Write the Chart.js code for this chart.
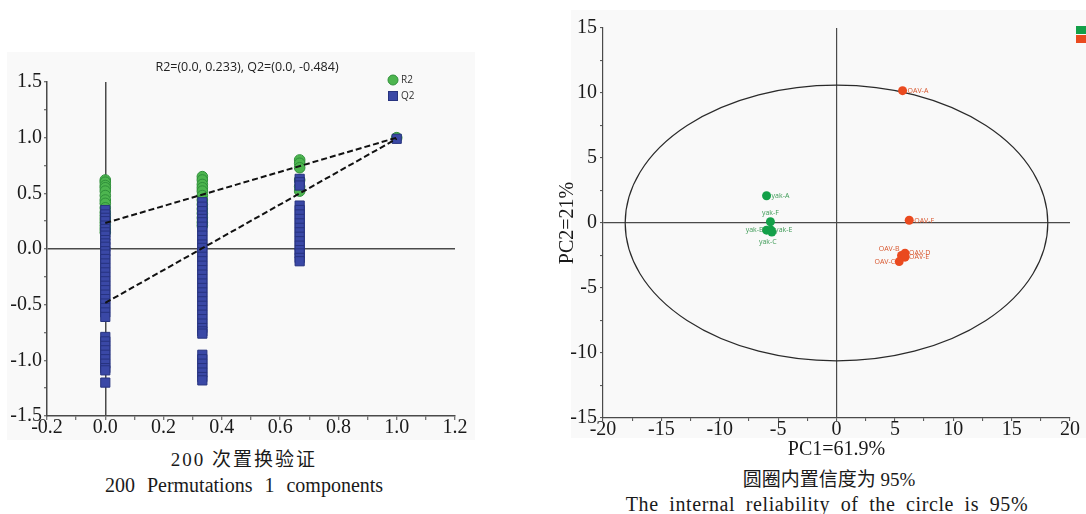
<!DOCTYPE html>
<html><head><meta charset="utf-8">
<script src="https://cdn.jsdelivr.net/npm/chart.js@4/dist/chart.umd.min.js"></script>
<style>
html,body{margin:0;padding:0;background:#fff;width:1086px;height:514px;overflow:hidden;position:relative;font-family:"Liberation Serif","Noto Sans CJK SC",serif;}
.panel{position:absolute;background:#f9f9f9;}
.box{position:absolute;}
.cap{position:absolute;transform:translateX(-50%);white-space:nowrap;font-size:19px;color:#1a1a1a;line-height:20px;}
</style></head><body>
<div class="panel" style="left:7px;top:52px;width:468px;height:388px"></div>
<div class="panel" style="left:571px;top:10px;width:515px;height:428px"></div>
<div class="box" style="left:0;top:50px;width:480px;height:392px"><canvas id="c1"></canvas></div>
<div class="box" style="left:545px;top:0;width:541px;height:466px"><canvas id="c2"></canvas></div>
<div class="cap" style="left:244px;top:450px;letter-spacing:2px">200 次置换验证</div>
<div class="cap" style="left:244px;top:475px;font-size:20px;word-spacing:7px">200 Permutations 1 components</div>
<div class="cap" style="left:829px;top:470px">圆圈内置信度为 95%</div>
<div class="cap" style="left:827px;top:494px;font-size:20px;letter-spacing:0.6px;word-spacing:5px">The internal reliability of the circle is 95%</div>
<script>
// ---------- Left chart: permutation test ----------
const COMPONENT_X = [0, 0.333, 0.667, 1.0];
const R2_AT_0   = [0.62, 0.60, 0.57, 0.55, 0.52, 0.48, 0.44, 0.41, 0.37, 0.33, 0.30, 0.27, 0.24, 0.21, 0.18, 0.15];
const R2_AT_033 = [0.65, 0.62, 0.58, 0.55, 0.52, 0.48, 0.44, 0.40, 0.36, 0.32, 0.28, 0.24, 0.21];
const R2_AT_067 = [0.80, 0.77, 0.73, 0.62, 0.56, 0.52];
const R2_AT_1   = [1.00];
const Q2_AT_0   = [0.35, 0.31, 0.28, 0.25, 0.21, 0.18, 0.15, 0.12, 0.08, 0.05, 0.02, -0.02, -0.05, -0.09, -0.13, -0.17, -0.21, -0.25, -0.29, -0.33, -0.37, -0.41, -0.45, -0.49, -0.53, -0.57, -0.61, -0.79, -0.83, -0.87, -0.91, -0.95, -0.99, -1.03, -1.07, -1.09, -1.20];
const Q2_AT_033 = [0.42, 0.38, 0.34, 0.30, 0.27, 0.24, 0.20, 0.16, 0.12, 0.08, 0.04, 0.01, -0.03, -0.07, -0.11, -0.15, -0.19, -0.23, -0.27, -0.31, -0.35, -0.39, -0.43, -0.47, -0.51, -0.55, -0.59, -0.63, -0.67, -0.71, -0.74, -0.76, -0.95, -0.99, -1.03, -1.07, -1.11, -1.15, -1.18];
const Q2_AT_067 = [0.63, 0.60, 0.57, 0.39, 0.35, 0.31, 0.27, 0.23, 0.19, 0.15, 0.11, 0.07, 0.03, -0.01, -0.04, -0.08, -0.11];
const Q2_AT_1   = [0.99];
const R2_LINE = [[0, 0.233], [1, 1.0]];
const Q2_LINE = [[0, -0.484], [1, 0.99]];
const PERM_TITLE = 'R2=(0.0, 0.233), Q2=(0.0, -0.484)';
const X_TICKS_LEFT = [-0.2, 0.0, 0.2, 0.4, 0.6, 0.8, 1.0, 1.2];
const Y_TICKS_LEFT = [-1.5, -1.0, -0.5, 0.0, 0.5, 1.0, 1.5];

// ---------- Right chart: PCA scores ----------
const YAK_NAMES = ['yak-A', 'yak-F', 'yak-B', 'yak-E', 'yak-C'];
const YAK_PC1   = [-5.99, -5.66, -5.99, -5.60, -5.54];
const YAK_PC2   = [2.10, 0.10, -0.55, -0.55, -0.70];
const OAV_NAMES = ['OAV-A', 'OAV-F', 'OAV-B', 'OAV-D', 'OAV-E', 'OAV-C'];
const OAV_PC1   = [5.66, 6.23, 5.57, 5.87, 5.87, 5.37];
const OAV_PC2   = [10.18, 0.21, -2.50, -2.32, -2.63, -2.97];
const ELLIPSE_A = 18.1;   // PC1 semi-axis of 95% ellipse
const ELLIPSE_B = 10.6;   // PC2 semi-axis
const PCA_TICKS_X = [-20, -15, -10, -5, 0, 5, 10, 15, 20];
const PCA_TICKS_Y = [-15, -10, -5, 0, 5, 10, 15];

const SERIF = '"Liberation Serif", "Times New Roman", serif';
const SANS = '"Open Sans", "Noto Sans", sans-serif';
const AXIS = '#4a4a4a';
const near = (v, list) => list.some(t => Math.abs(t - v) < 1e-6);

const col = (x, arr) => arr.map(y => ({x, y}));
const GREEN = '#4db54f', GREEN_B = '#2f8f3a';
const BLUE = '#3a48a6', BLUE_B = '#27337f';

const leftDecor = {
  id: 'leftDecor',
  afterDraw(chart) {
    const ctx = chart.ctx;
    ctx.save();
    ctx.fillStyle = '#222';
    ctx.font = '12.5px ' + SANS;
    ctx.textAlign = 'center'; ctx.textBaseline = 'middle';
    ctx.fillText(PERM_TITLE, 247, 17);
    // legend
    ctx.beginPath(); ctx.arc(393, 30, 5, 0, Math.PI * 2);
    ctx.fillStyle = GREEN; ctx.fill(); ctx.strokeStyle = GREEN_B; ctx.lineWidth = 1; ctx.stroke();
    ctx.fillStyle = BLUE; ctx.fillRect(388.5, 41.5, 9, 9);
    ctx.strokeStyle = BLUE_B; ctx.strokeRect(388.5, 41.5, 9, 9);
    ctx.fillStyle = '#333'; ctx.font = '10px ' + SANS; ctx.textAlign = 'left';
    ctx.fillText('R2', 401, 30); ctx.fillText('Q2', 401, 46);
    ctx.restore();
  }
};

const r2Data = [].concat(col(COMPONENT_X[0], R2_AT_0), col(COMPONENT_X[1], R2_AT_033), col(COMPONENT_X[2], R2_AT_067), col(COMPONENT_X[3], R2_AT_1));
const q2Data = [].concat(col(COMPONENT_X[0], Q2_AT_0), col(COMPONENT_X[1], Q2_AT_033), col(COMPONENT_X[2], Q2_AT_067), col(COMPONENT_X[3], Q2_AT_1));

new Chart(document.getElementById('c1'), {
  type: 'scatter',
  data: { datasets: [
    { label: 'R2 fit', type: 'line', data: R2_LINE.map(p => ({x: p[0], y: p[1]})), borderColor: '#111', borderWidth: 2, borderDash: [6, 3], pointRadius: 0, fill: false, order: 0 },
    { label: 'Q2 fit', type: 'line', data: Q2_LINE.map(p => ({x: p[0], y: p[1]})), borderColor: '#111', borderWidth: 2, borderDash: [6, 3], pointRadius: 0, fill: false, order: 0 },
    { label: 'Q2', data: q2Data, pointStyle: 'rect', pointRadius: 6.5, backgroundColor: BLUE, borderColor: BLUE_B, borderWidth: 1, order: 1 },
    { label: 'R2', data: r2Data, pointStyle: 'circle', pointRadius: 5.3, backgroundColor: GREEN, borderColor: GREEN_B, borderWidth: 1, order: 2 }
  ]},
  options: {
    responsive: true, maintainAspectRatio: false, animation: false, devicePixelRatio: 1,
    layout: { padding: { left: 0, right: 25, top: 32, bottom: 0 } },
    plugins: { legend: { display: false }, tooltip: { enabled: false } },
    scales: {
      x: {
        type: 'linear', min: -0.2, max: 1.2,
        afterFit(s) { s.height = 26; },
        border: { display: true, color: AXIS, width: 1.5 },
        grid: { drawOnChartArea: true, color: c => (c.tick && Math.abs(c.tick.value) < 1e-9) ? AXIS : 'rgba(0,0,0,0)', lineWidth: 1.5, tickColor: AXIS, tickLength: 4, tickWidth: 1 },
        ticks: { stepSize: 0.1, autoSkip: false, maxRotation: 0, padding: -4, color: '#1a1a1a', font: { family: SERIF, size: 20 },
          callback: v => near(v, X_TICKS_LEFT) ? (Math.round(v * 10) / 10).toFixed(1) : '' }
      },
      y: {
        type: 'linear', min: -1.5, max: 1.5,
        afterFit(s) { s.width = 47; },
        border: { display: true, color: AXIS, width: 1.5 },
        grid: { drawOnChartArea: true, color: c => (c.tick && Math.abs(c.tick.value) < 1e-9) ? AXIS : 'rgba(0,0,0,0)', lineWidth: 1.5, tickColor: AXIS, tickLength: 3, tickWidth: 1 },
        ticks: { stepSize: 0.25, autoSkip: false, padding: 2, color: '#1a1a1a', font: { family: SERIF, size: 20 },
          callback: v => near(v, Y_TICKS_LEFT) ? (Math.round(v * 10) / 10).toFixed(1) : '' }
      }
    }
  },
  plugins: [leftDecor]
});

// ---------- right chart ----------
const PCA_GREEN = '#13a049', PCA_ORANGE = '#ea4a1f';
const LABEL_STYLE = {
  'yak-A': [5, 0, 'left'], 'yak-F': [0, -9, 'center'], 'yak-B': [-3, 0, 'right'], 'yak-E': [4, 0, 'left'], 'yak-C': [-4, 10, 'center'],
  'OAV-A': [5, 0, 'left'], 'OAV-F': [5, 0.5, 'left'], 'OAV-B': [-2, -7, 'right'], 'OAV-D': [4, 0, 'left'], 'OAV-E': [4, 0, 'left'], 'OAV-C': [-4, 0, 'right']
};

const pcaDecor = {
  id: 'pcaDecor',
  beforeDatasetsDraw(chart) {
    const {ctx, scales: {x, y}} = chart;
    const cx = x.getPixelForValue(0), cy = y.getPixelForValue(0);
    const rx = x.getPixelForValue(ELLIPSE_A) - cx, ry = cy - y.getPixelForValue(ELLIPSE_B);
    ctx.save();
    ctx.beginPath(); ctx.ellipse(cx, cy, rx, ry, 0, 0, Math.PI * 2);
    ctx.strokeStyle = '#2a2a2a'; ctx.lineWidth = 1.2; ctx.stroke();
    ctx.restore();
  },
  afterDatasetsDraw(chart) {
    const ctx = chart.ctx;
    ctx.save();
    ctx.font = '7px ' + SANS; ctx.textBaseline = 'middle';
    chart.data.datasets.forEach((ds, i) => {
      const meta = chart.getDatasetMeta(i);
      meta.data.forEach((pt, j) => {
        const name = ds.names[j];
        const st = LABEL_STYLE[name] || [5, 0, 'left'];
        ctx.fillStyle = ds.labelColor; ctx.textAlign = st[2];
        ctx.fillText(name, pt.x + st[0], pt.y + st[1]);
      });
    });
    // legend swatches (cut at the right edge)
    ctx.fillStyle = PCA_GREEN; ctx.fillRect(531, 26, 10, 8);
    ctx.fillStyle = PCA_ORANGE; ctx.fillRect(531, 35, 10, 8);
    ctx.restore();
  }
};

new Chart(document.getElementById('c2'), {
  type: 'scatter',
  data: { datasets: [
    { label: 'yak', names: YAK_NAMES, labelColor: '#3c9a55', data: YAK_PC1.map((v, i) => ({x: v, y: YAK_PC2[i]})), pointRadius: 4.5, backgroundColor: PCA_GREEN, borderColor: PCA_GREEN, borderWidth: 0 },
    { label: 'OAV', names: OAV_NAMES, labelColor: '#d8552c', data: OAV_PC1.map((v, i) => ({x: v, y: OAV_PC2[i]})), pointRadius: 4.5, backgroundColor: PCA_ORANGE, borderColor: PCA_ORANGE, borderWidth: 0 }
  ]},
  options: {
    responsive: true, maintainAspectRatio: false, animation: false, devicePixelRatio: 1,
    layout: { padding: { left: 0, right: 16, top: 28, bottom: 0 } },
    plugins: { legend: { display: false }, tooltip: { enabled: false } },
    scales: {
      x: {
        type: 'linear', min: -20, max: 20,
        afterFit(s) { s.height = 48; },
        title: { display: true, text: 'PC1=61.9%', color: '#1a1a1a', font: { family: SERIF, size: 20 }, padding: { top: 0, bottom: 4 } },
        border: { display: true, color: AXIS, width: 1.2 },
        grid: { drawOnChartArea: true, color: c => (c.tick && c.tick.value === 0) ? AXIS : 'rgba(0,0,0,0)', lineWidth: 1.2, tickColor: AXIS, tickLength: 3, tickWidth: 1 },
        ticks: { stepSize: 2.5, autoSkip: false, maxRotation: 0, padding: -3, color: '#1a1a1a', font: { family: SERIF, size: 20 },
          callback: v => near(v, PCA_TICKS_X) ? String(v) : '' }
      },
      y: {
        type: 'linear', min: -15, max: 15,
        afterFit(s) { s.width = 58; },
        title: { display: true, text: 'PC2=21%', color: '#1a1a1a', font: { family: SERIF, size: 20 }, padding: { top: 11, bottom: 0 } },
        border: { display: true, color: AXIS, width: 1.2 },
        grid: { drawOnChartArea: true, color: c => (c.tick && c.tick.value === 0) ? AXIS : 'rgba(0,0,0,0)', lineWidth: 1.2, tickColor: AXIS, tickLength: 3, tickWidth: 1 },
        ticks: { stepSize: 2.5, autoSkip: false, padding: 3, color: '#1a1a1a', font: { family: SERIF, size: 20 },
          callback: v => near(v, PCA_TICKS_Y) ? String(v) : '' }
      }
    }
  },
  plugins: [pcaDecor]
});
</script>
</body></html>
